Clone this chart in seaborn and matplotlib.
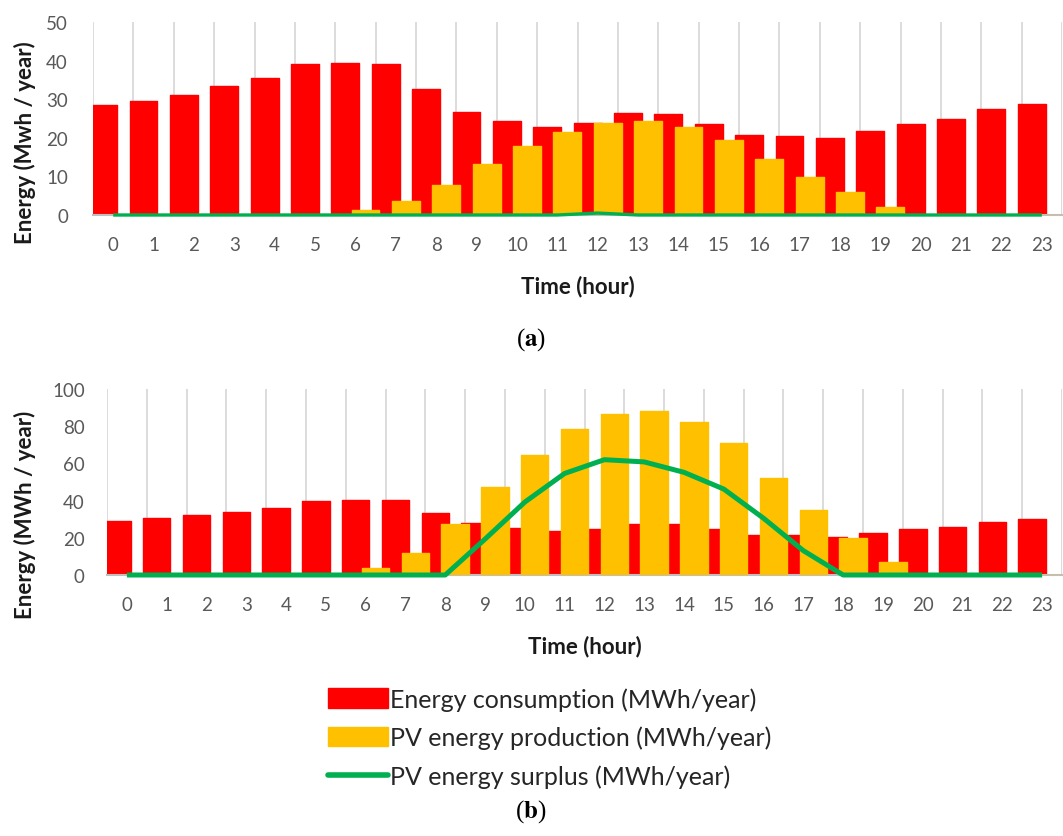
import numpy as np
import matplotlib
matplotlib.use("Agg")
import matplotlib.pyplot as plt
import seaborn as sns
from matplotlib.patches import Patch
from matplotlib.lines import Line2D

# ---------------- data ----------------
hours = list(range(24))
hour_labels = [str(h) for h in hours]

# (a)
consumption_a = [28.5, 29.5, 31.1, 33.5, 35.4, 39.1, 39.5, 39.1, 32.6, 26.8, 24.4, 22.7,
                 23.8, 26.5, 26.2, 23.5, 20.8, 20.5, 19.9, 21.8, 23.5, 24.8, 27.5, 28.8]
pv_a = [0, 0, 0, 0, 0, 0, 1.4, 3.5, 7.8, 13.1, 18.0, 21.6,
        23.8, 24.4, 22.8, 19.4, 14.5, 9.8, 5.9, 2.2, 0, 0, 0, 0]
surplus_a = [0, 0, 0, 0, 0, 0, 0, 0, 0, 0, 0, 0,
             0.5, 0, 0, 0, 0, 0, 0, 0, 0, 0, 0, 0]

# (b)
consumption_b = [29.2, 30.6, 32.3, 34.1, 36.2, 39.6, 40.3, 40.3, 33.3, 28.0, 25.1, 23.7,
                 24.6, 27.2, 27.2, 24.6, 21.7, 21.7, 20.2, 22.4, 24.6, 25.8, 28.7, 29.9]
pv_b = [0, 0, 0, 0, 0, 0, 3.6, 12.0, 27.2, 47.3, 64.3, 78.3,
        86.6, 88.0, 82.4, 70.8, 52.2, 34.8, 19.7, 7.2, 0, 0, 0, 0]
surplus_b = [0, 0, 0, 0, 0, 0, 0, 0, 0, 19.3, 39.2, 54.6,
             62.0, 60.8, 55.2, 46.2, 30.5, 13.1, 0, 0, 0, 0, 0, 0]

legend_labels = ["Energy consumption (MWh/year)",
                 "PV energy production (MWh/year)",
                 "PV energy surplus (MWh/year)"]

# ---------------- style ----------------
sns.set_theme(style="white")
plt.rcParams["font.family"] = ["Lato", "DejaVu Sans"]
plt.rcParams["mathtext.fontset"] = "stix"

RED = "#FF0000"
YEL = "#FFC000"
GRN = "#00B050"
TICK = "#595959"
GRID = "#D9D9D9"
LBL = "#1A1A1A"

W, H = 1063, 837
fig = plt.figure(figsize=(W / 100, H / 100), dpi=100)
fig.patch.set_facecolor("white")

ax_a = fig.add_axes([93 / W, 1 - 216 / H, (1062 - 93) / W, (216 - 23) / H])
ax_b = fig.add_axes([107 / W, 1 - 576 / H, (1062 - 107) / W, (576 - 390) / H])


def draw(ax, cons, pv, surplus, ymax, ystep, ylabel, lw, ypad, ylab_xy, xlab_y):
    hx = np.array(hours, dtype=float)
    sns.barplot(x=hx - 0.25, y=cons, native_scale=True, width=0.69, color=RED,
                saturation=1, errorbar=None, ax=ax, zorder=2)
    sns.barplot(x=hx + 0.25, y=pv, native_scale=True, width=0.69, color=YEL,
                saturation=1, errorbar=None, ax=ax, zorder=3)
    for p in ax.patches:
        p.set_edgecolor(p.get_facecolor())
        p.set_linewidth(1.0)
        p.set_joinstyle("round")
    sns.lineplot(x=hours, y=surplus, color=GRN, lw=lw, ax=ax, zorder=4,
                 clip_on=False, solid_capstyle="butt")

    ax.set_xlim(-0.5, 23.5)
    ax.set_ylim(0, ymax)
    ax.set_xticks(hours)
    ax.set_xticklabels(hour_labels)
    ax.set_xticks(np.arange(-0.5, 24, 1), minor=True)
    ax.set_yticks(np.arange(0, ymax + 1, ystep))
    ax.grid(False)
    ax.grid(axis="x", which="minor", color=GRID, lw=1.3, zorder=0)
    ax.set_axisbelow(True)
    ax.tick_params(axis="x", which="both", length=0, pad=15, labelsize=13.5,
                   labelcolor=TICK)
    ax.tick_params(axis="y", length=0, pad=ypad, labelsize=13.5, labelcolor=TICK)
    for s in ["top", "right", "left"]:
        ax.spines[s].set_visible(False)
    ax.spines["bottom"].set_color("#BFBFBF")
    ax.spines["bottom"].set_linewidth(1.5)
    ax.set_xlabel("Time (hour)", fontsize=16, fontweight="bold", color=LBL, va="center")
    ax.xaxis.set_label_coords(0.5, xlab_y)
    ax.set_ylabel(ylabel, fontsize=16, fontweight="bold", color=LBL, va="center")
    ax.yaxis.set_label_coords(*ylab_xy)


draw(ax_a, consumption_a, pv_a, surplus_a, 50, 10, "Energy (Mwh / year)", 2.4, 18,
     (-0.070, 0.378), (216 - 287) / 193)
draw(ax_b, consumption_b, pv_b, surplus_b, 100, 20, "Energy (MWh / year)", 3.6, 16,
     (-0.086, 0.33), (576 - 647) / 186)

# captions
fig.text(531 / W, 1 - 340 / H, r"($\mathbf{a}$)", fontsize=18, ha="center", va="center",
         family="Liberation Serif", color="black")
fig.text(531 / W, 1 - 812 / H, r"($\mathbf{b}$)", fontsize=18, ha="center", va="center",
         family="Liberation Serif", color="black")

# legend
handles = [Patch(facecolor=RED, edgecolor=RED),
           Patch(facecolor=YEL, edgecolor=YEL),
           Line2D([], [], color=GRN, lw=4)]
fig.legend(handles, legend_labels, loc="center left",
           bbox_to_anchor=(328 / W, 1 - 738.5 / H), frameon=False, fontsize=18,
           handlelength=2.4, handleheight=0.8, handletextpad=0.1, labelspacing=0.6,
           borderpad=0, borderaxespad=0, labelcolor="#262626")

fig.savefig("out.png", dpi=100, facecolor="white")
